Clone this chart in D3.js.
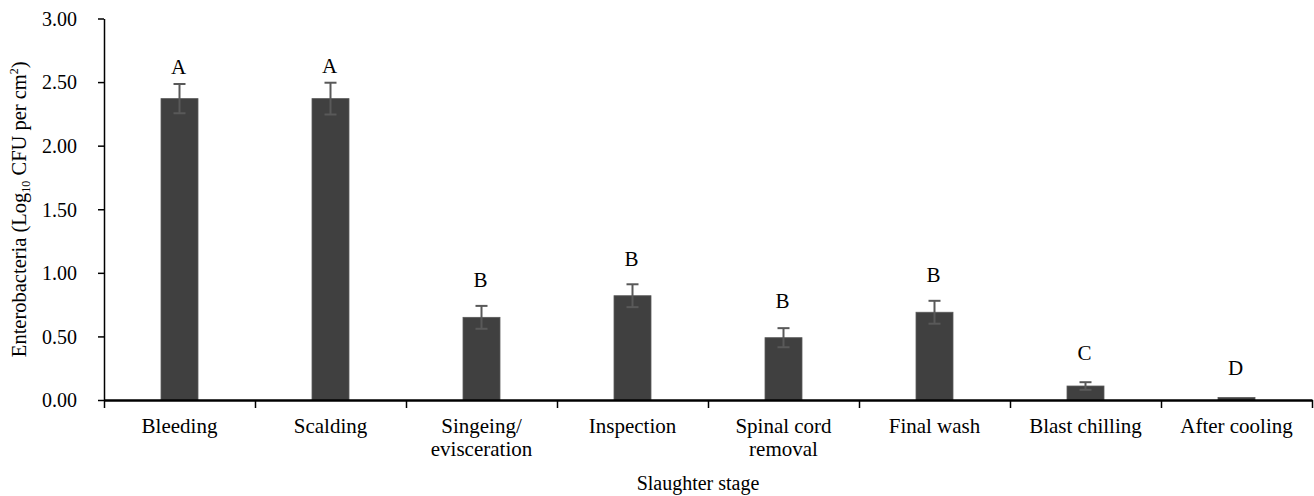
<!DOCTYPE html>
<html>
<head>
<meta charset="utf-8">
<script src="https://cdn.jsdelivr.net/npm/d3@7"></script>
<style>
  html, body { margin: 0; padding: 0; background: #fff; }
  svg text { font-family: "Liberation Serif", "Times New Roman", serif; fill: #000; }
</style>
</head>
<body>
<svg id="chart" width="1314" height="496"></svg>
<script>
// slaughter stages (\n = line break in the axis label)
var stages = ["Bleeding", "Scalding", "Singeing/\nevisceration", "Inspection",
              "Spinal cord\nremoval", "Final wash", "Blast chilling", "After cooling"];
// mean Enterobacteria counts, log10 CFU per cm2
var means = [2.37, 2.37, 0.65, 0.82, 0.49, 0.69, 0.11, 0.02];
// standard error
var errors = [0.115, 0.125, 0.09, 0.09, 0.075, 0.09, 0.03, 0];
// significance letters
var letters = ["A", "A", "B", "B", "B", "B", "C", "D"];
var yTicks = [0, 0.5, 1, 1.5, 2, 2.5, 3];

var svg = d3.select('#chart');
var plotLeft = 104, plotRight = 1312, plotTop = 18.5, plotBottom = 400;

var x = d3.scaleBand().domain(stages).range([plotLeft, plotRight]).padding(0);
var y = d3.scaleLinear().domain([0, 3]).range([plotBottom, plotTop]);
var barW = x.bandwidth() * 0.245;

// bars
svg.append('g').selectAll('rect')
    .data(means)
    .enter().append('rect')
    .attr('x', function(d, i) { return x(stages[i]) + x.bandwidth() / 2 - barW / 2; })
    .attr('y', function(d) { return y(d); })
    .attr('width', barW)
    .attr('height', function(d) { return y(0) - y(d); })
    .attr('fill', '#404040')
    .attr('stroke', '#5a5a5a')
    .attr('stroke-width', 0.8);

// error bars
var eb = svg.append('g').attr('stroke', '#595959').attr('stroke-width', 2);
means.forEach(function(m, i) {
    if (!errors[i]) return;
    var cx = x(stages[i]) + x.bandwidth() / 2;
    var y1 = y(m + errors[i]), y2 = y(m - errors[i]);
    eb.append('line').attr('x1', cx).attr('x2', cx).attr('y1', y1).attr('y2', y2);
    eb.append('line').attr('x1', cx - 6).attr('x2', cx + 6).attr('y1', y1).attr('y2', y1);
    eb.append('line').attr('x1', cx - 6).attr('x2', cx + 6).attr('y1', y2).attr('y2', y2);
});

// letters above the bars
svg.append('g').selectAll('text')
    .data(letters)
    .enter().append('text')
    .attr('x', function(d, i) { return x(stages[i]) + x.bandwidth() / 2 - 1; })
    .attr('y', function(d, i) {
        var t = means[i] + errors[i];
        return y(t) - (23 - 5.3 * t);
    })
    .attr('text-anchor', 'middle')
    .style('font-size', '21px')
    .text(function(d) { return d; });

// y axis
var yAxis = svg.append('g')
    .attr('transform', 'translate(' + plotLeft + ',0)')
    .call(d3.axisLeft(y).tickValues(yTicks).tickFormat(d3.format('.2f')).tickSize(6).tickSizeOuter(0).tickPadding(21));
yAxis.select('.domain').attr('stroke', '#000').attr('stroke-width', 1.5);
yAxis.selectAll('.tick line').attr('stroke', '#000').attr('stroke-width', 1.5);
yAxis.selectAll('.tick text').style('font-size', '20px').attr('fill', '#000')
    .attr('font-family', null).attr('dy', '0.34em');

// x axis: divider ticks between categories
var xEdge = d3.scaleLinear().domain([0, stages.length]).range([plotLeft, plotRight]);
var xAxis = svg.append('g')
    .attr('transform', 'translate(0,' + plotBottom + ')')
    .call(d3.axisBottom(xEdge).ticks(stages.length).tickFormat('').tickSize(8).tickSizeOuter(0));
xAxis.select('.domain').attr('stroke', '#000').attr('stroke-width', 2.5);
xAxis.selectAll('.tick line').attr('stroke', '#000').attr('stroke-width', 1.5);

// category labels
var lab = svg.append('g').selectAll('text')
    .data(stages)
    .enter().append('text')
    .attr('text-anchor', 'middle')
    .style('font-size', '21px');
lab.each(function(d) {
    var t = d3.select(this);
    d.split('\n').forEach(function(line, k) {
        t.append('tspan')
            .attr('x', x(d) + x.bandwidth() / 2)
            .attr('y', 433 + k * 23)
            .text(line);
    });
});

// axis titles
svg.append('text')
    .attr('x', 698).attr('y', 490)
    .attr('text-anchor', 'middle')
    .style('font-size', '20px')
    .text('Slaughter stage');

var yt = svg.append('text')
    .attr('transform', 'translate(26,' + ((plotTop + plotBottom) / 2) + ') rotate(-90)')
    .attr('text-anchor', 'middle')
    .style('font-size', '20.5px');
yt.append('tspan').text('Enterobacteria (Log');
yt.append('tspan').attr('dy', 4).style('font-size', '12px').text('10');
yt.append('tspan').attr('dy', -4).text(' CFU per cm');
yt.append('tspan').attr('dy', -8).style('font-size', '12px').text('2');
yt.append('tspan').attr('dy', 8).text(')');
</script>
</body>
</html>
